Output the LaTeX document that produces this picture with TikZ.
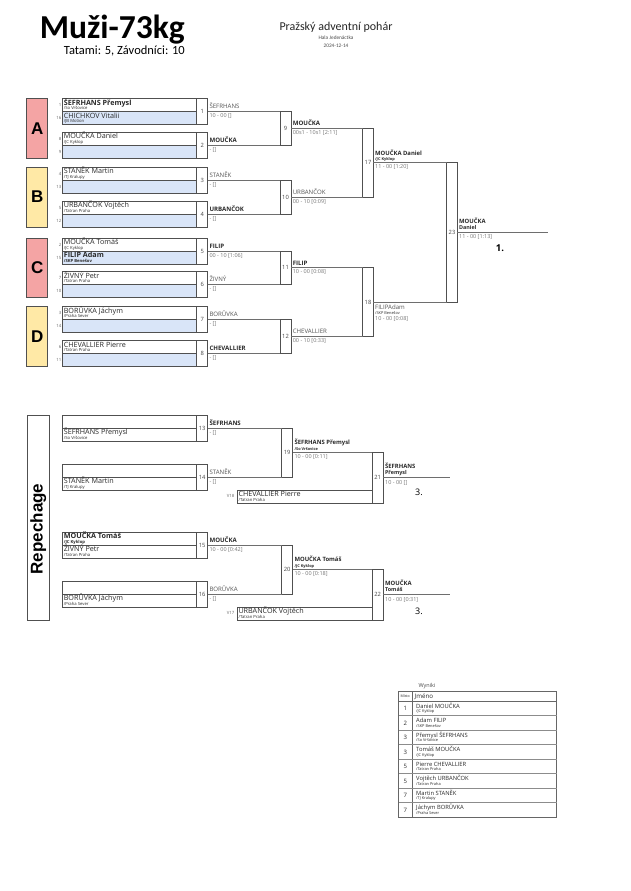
\documentclass[tikz,border=0pt]{standalone}
\usepackage{fontspec}
\setmainfont{Open Sans}
\newfontfamily\calfont{Carlito}
\newfontfamily\arfont{Liberation Sans}
\definecolor{boxc}{HTML}{505050}
\definecolor{connc}{HTML}{6E6E6E}
\definecolor{txt}{HTML}{2A2A2A}
\definecolor{otxt}{HTML}{555555}
\definecolor{scorec}{HTML}{777777}
\definecolor{slotblue}{HTML}{D9E5F8}
\definecolor{poolpink}{HTML}{F4A4A4}
\definecolor{poolyel}{HTML}{FFE9A6}
\definecolor{numc}{HTML}{444444}
\newcommand\Bd{\bfseries\color{txt}}
\newcommand\BrMatch[9]{%
  \node[slot] (s#1a) at (62.3,#2) {};
  \node[slot, fill=#7] (s#1b) at (s#1a.south west) {};
  \node[numbox, minimum height=26pt] (m#1) at (s#1a.north east) {#1};
  \node[nm] (t#1a) at ([shift={(1.3pt,-6.6pt)}]s#1a.north west) {#3};
  \node[club] (c#1a) at ([shift={(1.3pt,-11pt)}]s#1a.north west) {#4};
  \node[nm] (t#1b) at ([shift={(1.3pt,-6.6pt)}]s#1b.north west) {#5};
  \node[club] (c#1b) at ([shift={(1.3pt,-11pt)}]s#1b.north west) {#6};
  \node[seed] (d#1a) at ([shift={(-0.8pt,-8pt)}]s#1a.north west) {#8};
  \node[seed] (d#1b) at ([shift={(-0.8pt,-8pt)}]s#1b.north west) {#9};
}
\newcommand\OutLab[3]{%
  \node[oname] (o#1n) at ([shift={(1.6pt,2.6pt)}]m#1.east) {#2};
  \node[score] (o#1s) at ([shift={(1.6pt,-6pt)}]m#1.east) {#3};
}
\begin{document}
\begin{tikzpicture}[x=1pt,y=-1pt,
  slot/.style={draw=boxc, fill=white, line width=0.7pt, minimum width=134.4pt, minimum height=13pt, inner sep=0pt, outer sep=0pt, anchor=north west},
  numbox/.style={draw=boxc, fill=white, line width=0.7pt, minimum width=11pt, inner sep=0pt, outer sep=0pt, anchor=north west, font=\fontsize{5.8}{6}\selectfont, text=numc},
  conn/.style={draw=connc, line width=0.8pt},
  nm/.style={font=\fontsize{7.2}{8}\selectfont, text=txt, inner sep=0pt, anchor=base west},
  club/.style={font=\fontsize{4.2}{5}\selectfont, text=txt, inner sep=0pt, anchor=base west},
  seed/.style={font=\fontsize{4.3}{5}\selectfont, text=black!60, inner sep=0pt, anchor=base east},
  oname/.style={font=\fontsize{6.1}{7}\selectfont, text=otxt, inner sep=0pt, anchor=base west},
  onameb/.style={font=\fontsize{5.9}{7}\selectfont\bfseries, text=txt, inner sep=0pt, anchor=base west},
  score/.style={font=\fontsize{5.5}{6}\selectfont, text=scorec, inner sep=0pt, anchor=base west},
  poolbox/.style={draw=boxc, line width=0.7pt, minimum width=21pt, inner sep=0pt, outer sep=0pt, anchor=north west},
  poolletter/.style={font=\arfont\bfseries\fontsize{17}{18}\selectfont, text=black, inner sep=0pt},
  placemark/.style={font=\fontsize{9.5}{10}\selectfont\bfseries, text=black, inner sep=0pt},
  tline/.style={draw=black!60, line width=0.9pt},
  tsmall/.style={inner sep=0pt, text=txt}
]
\useasboundingbox (0,0) rectangle (630,891);
\fill[white] (0,0) rectangle (630,891);

% ---------- header ----------
\node[font={\calfont\bfseries\fontsize{33.5}{36}\selectfont}, anchor=base east, inner sep=0pt] (title) at (185,38) {Muži-73kg};
\node[font={\calfont\fontsize{12.5}{14}\selectfont}, anchor=base east, inner sep=0pt] (tatami) at (185,54.5) {Tatami: 5, Závodníci: 10};
\node[font={\calfont\fontsize{12}{14}\selectfont}, anchor=base, inner sep=0pt, text=black!85] (event) at (336,31) {Pražský adventní pohár};
\node[font={\calfont\fontsize{5.3}{6}\selectfont}, inner sep=0pt, text=black!70] (hall) at (336,37.5) {Hala Jedenáctka};
\node[font={\calfont\fontsize{5.3}{6}\selectfont}, inner sep=0pt, text=black!70] (date) at (336,45.5) {2024-12-14};

% ---------- pools ----------
\node[poolbox, fill=poolpink, minimum height=59.5pt] (pA) at (26.7,98.5) {};
\node[poolletter] (lA) at (pA.center) {A};
\node[poolbox, fill=poolyel, minimum height=60pt] (pB) at (26.7,167) {};
\node[poolletter] (lB) at (pB.center) {B};
\node[poolbox, fill=poolpink, minimum height=59.5pt] (pC) at (26.7,238) {};
\node[poolletter] (lC) at (pC.center) {C};
\node[poolbox, fill=poolyel, minimum height=60pt] (pD) at (26.7,306.5) {};
\node[poolletter] (lD) at (pD.center) {D};

% ---------- first round ----------
\BrMatch{1}{98.5}{\bfseries ŠEFRHANS Přemysl}{/So Vršovice}{CHICHKOV Vitalii}{/JB Motion}{slotblue}{1}{16}
\BrMatch{2}{132}{MOUČKA Daniel}{/JC Kyklop}{}{}{slotblue}{8}{9}
\BrMatch{3}{167}{STANĚK Martin}{/TJ Kralupy}{}{}{slotblue}{4}{13}
\BrMatch{4}{201}{URBANČOK Vojtěch}{/Tatran Praha}{}{}{slotblue}{5}{12}
\BrMatch{5}{238}{MOUČKA Tomáš}{/JC Kyklop}{\bfseries FILIP Adam}{\bfseries /SKP Benešov}{slotblue}{2}{15}
\BrMatch{6}{271.5}{ŽIVNÝ Petr}{/Tatran Praha}{}{}{slotblue}{7}{10}
\BrMatch{7}{306.5}{BORŮVKA Jáchym}{/Praha Sever}{}{}{slotblue}{3}{14}
\BrMatch{8}{340.5}{CHEVALLIER Pierre}{/Tatran Praha}{}{}{slotblue}{6}{11}

% ---------- later rounds ----------
\node[numbox, minimum height=33.5pt] (m9) at (280,111.5) {9};
\node[numbox, minimum height=34pt] (m10) at (280,180) {10};
\node[numbox, minimum height=33.5pt] (m11) at (280,251) {11};
\node[numbox, minimum height=34pt] (m12) at (280,319.5) {12};
\node[numbox, minimum width=10.6pt, minimum height=68.75pt] (m17) at (362.7,128.25) {17};
\node[numbox, minimum width=10.6pt, minimum height=68.75pt] (m18) at (362.7,267.75) {18};
\node[numbox, minimum width=10.6pt, minimum height=139.5pt] (m23) at (446.7,162.625) {23};
\coordinate (e23) at (548,232.375);

\draw[conn] (m1.east) -- (m9.north west);
\draw[conn] (m2.east) -- (m9.south west);
\draw[conn] (m3.east) -- (m10.north west);
\draw[conn] (m4.east) -- (m10.south west);
\draw[conn] (m5.east) -- (m11.north west);
\draw[conn] (m6.east) -- (m11.south west);
\draw[conn] (m7.east) -- (m12.north west);
\draw[conn] (m8.east) -- (m12.south west);
\draw[conn] (m9.east) -- (m17.north west);
\draw[conn] (m10.east) -- (m17.south west);
\draw[conn] (m11.east) -- (m18.north west);
\draw[conn] (m12.east) -- (m18.south west);
\draw[conn] (m17.east) -- (m23.north west);
\draw[conn] (m18.east) -- (m23.south west);
\draw[conn] (m23.east) -- (e23);

\OutLab{1}{ŠEFRHANS}{10 - 00 []}
\OutLab{2}{\Bd MOUČKA}{- []}
\OutLab{3}{STANĚK}{- []}
\OutLab{4}{\Bd URBANČOK}{- []}
\OutLab{5}{\Bd FILIP}{00 - 10 [1:06]}
\OutLab{6}{ŽIVNÝ}{- []}
\OutLab{7}{BORŮVKA}{- []}
\OutLab{8}{\Bd CHEVALLIER}{- []}
\OutLab{9}{\Bd MOUČKA}{00s1 - 10s1 [2:11]}
\OutLab{10}{URBANČOK}{00 - 10 [0:09]}
\OutLab{11}{\Bd FILIP}{10 - 00 [0:08]}
\OutLab{12}{CHEVALLIER}{00 - 10 [0:33]}

\node[onameb] (o17n) at ([shift={(1.6pt,7.6pt)}]m17.east) {MOUČKA Daniel};
\node[club, font=\fontsize{3.9}{4}\selectfont\bfseries] (o17c) at ([shift={(1.6pt,1.8pt)}]m17.east) {/JC Kyklop};
\node[score] (o17s) at ([shift={(1.6pt,-6pt)}]m17.east) {11 - 00 [1:20]};

\node[oname] (o18n) at ([shift={(1.6pt,-7.3pt)}]m18.east) {FILIPAdam};
\node[club, font=\fontsize{3.9}{4}\selectfont] (o18c) at ([shift={(1.6pt,-12pt)}]m18.east) {/SKP Benešov};
\node[score] (o18s) at ([shift={(1.6pt,-18.6pt)}]m18.east) {10 - 00 [0:08]};

\node[onameb] (o23n) at ([shift={(1.6pt,8.6pt)}]m23.east) {MOUČKA};
\node[onameb, font=\fontsize{5.4}{6}\selectfont\bfseries] (o23f) at ([shift={(1.6pt,3pt)}]m23.east) {Daniel};
\node[score] (o23s) at ([shift={(1.6pt,-6.3pt)}]m23.east) {11 - 00 [1:13]};
\node[placemark] (pl1) at (500,248) {1.};

% ---------- repechage ----------
\node[poolbox, fill=white, minimum width=22.3pt, minimum height=205pt] (rep) at (27,415) {};
\node[poolletter, rotate=90] (repl) at (38.2,529) {Repechage};

\BrMatch{13}{415}{}{}{ŠEFRHANS Přemysl}{/So Vršovice}{white}{}{}
\BrMatch{14}{464}{}{}{STANĚK Martin}{/TJ Kralupy}{white}{}{}
\BrMatch{15}{532}{\bfseries MOUČKA Tomáš}{\bfseries /JC Kyklop}{ŽIVNÝ Petr}{/Tatran Praha}{white}{}{}
\BrMatch{16}{581}{}{}{BORŮVKA Jáchym}{/Praha Sever}{white}{}{}

\node[numbox, minimum height=49pt] (m19) at (281.7,428) {19};
\node[numbox, minimum height=49pt] (m20) at (281.7,545) {20};
\node[slot, minimum width=135pt] (b18) at (237,490) {};
\node[slot, minimum width=135pt] (b17) at (237,607) {};
\node[numbox, minimum width=11.3pt, minimum height=50.5pt] (m21) at (372,452.5) {21};
\node[numbox, minimum width=11.3pt, minimum height=50.5pt] (m22) at (372,569.5) {22};
\coordinate (e21) at (450,477.75);
\coordinate (e22) at (450,594.75);

\node[nm] (b18t) at ([shift={(1.3pt,-6.6pt)}]b18.north west) {CHEVALLIER Pierre};
\node[club] (b18c) at ([shift={(1.3pt,-11pt)}]b18.north west) {/Tatran Praha};
\node[seed] (b18v) at ([shift={(-2.5pt,-7.5pt)}]b18.north west) {V18};
\node[nm] (b17t) at ([shift={(1.3pt,-6.6pt)}]b17.north west) {URBANČOK Vojtěch};
\node[club] (b17c) at ([shift={(1.3pt,-11pt)}]b17.north west) {/Tatran Praha};
\node[seed] (b17v) at ([shift={(-2.5pt,-7.5pt)}]b17.north west) {V17};

\draw[conn] (m13.east) -- (m19.north west);
\draw[conn] (m14.east) -- (m19.south west);
\draw[conn] (m19.east) -- (m21.north west);
\draw[conn] (m21.east) -- (e21);
\draw[conn] (m15.east) -- (m20.north west);
\draw[conn] (m16.east) -- (m20.south west);
\draw[conn] (m20.east) -- (m22.north west);
\draw[conn] (m22.east) -- (e22);

\OutLab{13}{\Bd ŠEFRHANS}{- []}
\OutLab{14}{STANĚK}{- []}
\OutLab{15}{\Bd MOUČKA}{10 - 00 [0:42]}
\OutLab{16}{BORŮVKA}{- []}

\node[onameb] (o19n) at ([shift={(1.6pt,7.6pt)}]m19.east) {ŠEFRHANS Přemysl};
\node[club, font=\fontsize{3.9}{4}\selectfont\bfseries] (o19c) at ([shift={(1.6pt,1.8pt)}]m19.east) {/So Vršovice};
\node[score] (o19s) at ([shift={(1.6pt,-6pt)}]m19.east) {10 - 00 [0:11]};
\node[onameb] (o20n) at ([shift={(1.6pt,7.6pt)}]m20.east) {MOUČKA Tomáš};
\node[club, font=\fontsize{3.9}{4}\selectfont\bfseries] (o20c) at ([shift={(1.6pt,1.8pt)}]m20.east) {/JC Kyklop};
\node[score] (o20s) at ([shift={(1.6pt,-6pt)}]m20.east) {10 - 00 [0:18]};

\node[onameb] (o21n) at ([shift={(1.6pt,9.5pt)}]m21.east) {ŠEFRHANS};
\node[onameb, font=\fontsize{5.4}{6}\selectfont\bfseries] (o21f) at ([shift={(1.6pt,3.6pt)}]m21.east) {Přemysl};
\node[score] (o21s) at ([shift={(1.6pt,-6.3pt)}]m21.east) {10 - 00 []};
\node[placemark, font=\fontsize{9}{10}\selectfont] (pl3a) at (419,492) {3.};
\node[onameb] (o22n) at ([shift={(1.6pt,9.5pt)}]m22.east) {MOUČKA};
\node[onameb, font=\fontsize{5.4}{6}\selectfont\bfseries] (o22f) at ([shift={(1.6pt,3.6pt)}]m22.east) {Tomáš};
\node[score] (o22s) at ([shift={(1.6pt,-6.3pt)}]m22.east) {10 - 00 [0:31]};
\node[placemark, font=\fontsize{9}{10}\selectfont] (pl3b) at (419,611) {3.};

% ---------- results table ----------
\node[tsmall, font=\fontsize{5.5}{6}\selectfont, text=black!70] (wyn) at (427,686) {Wyniki};
\draw[tline] (398.5,691) rectangle (556.5,817);
\draw[tline] (412,691) -- (412,817);
\draw[tline] (398.5,701) -- (556.5,701);
\foreach \k in {1,...,7} { \draw[tline, draw=black!45] (398.5,701+14.5*\k) -- (556.5,701+14.5*\k); }
\node[tsmall, font=\fontsize{3.6}{4}\selectfont] (mst) at (405.25,696.2) {Místo};
\node[tsmall, font=\fontsize{6.2}{7}\selectfont, anchor=base west] (jmn) at (414.5,698.8) {Jméno};
\foreach \i/\p/\n/\c in {0/1/Daniel MOUČKA/JC Kyklop, 1/2/Adam FILIP/SKP Benešov, 2/3/Přemysl ŠEFRHANS/So Vršovice, 3/3/Tomáš MOUČKA/JC Kyklop, 4/5/Pierre CHEVALLIER/Tatran Praha, 5/5/Vojtěch URBANČOK/Tatran Praha, 6/7/Martin STANĚK/TJ Kralupy, 7/7/Jáchym BORŮVKA/Praha Sever} {
  \node[tsmall, font=\fontsize{6}{7}\selectfont] (rp\i) at (405.25,701+14.5*\i+7.6) {\p};
  \node[tsmall, font=\fontsize{5.8}{7}\selectfont, anchor=base west] (rn\i) at (416,701+14.5*\i+7.4) {\n};
  \node[tsmall, font=\fontsize{3.9}{4}\selectfont, anchor=base west] (rc\i) at (416,701+14.5*\i+11.9) {/\c};
}
\end{tikzpicture}
\end{document}
